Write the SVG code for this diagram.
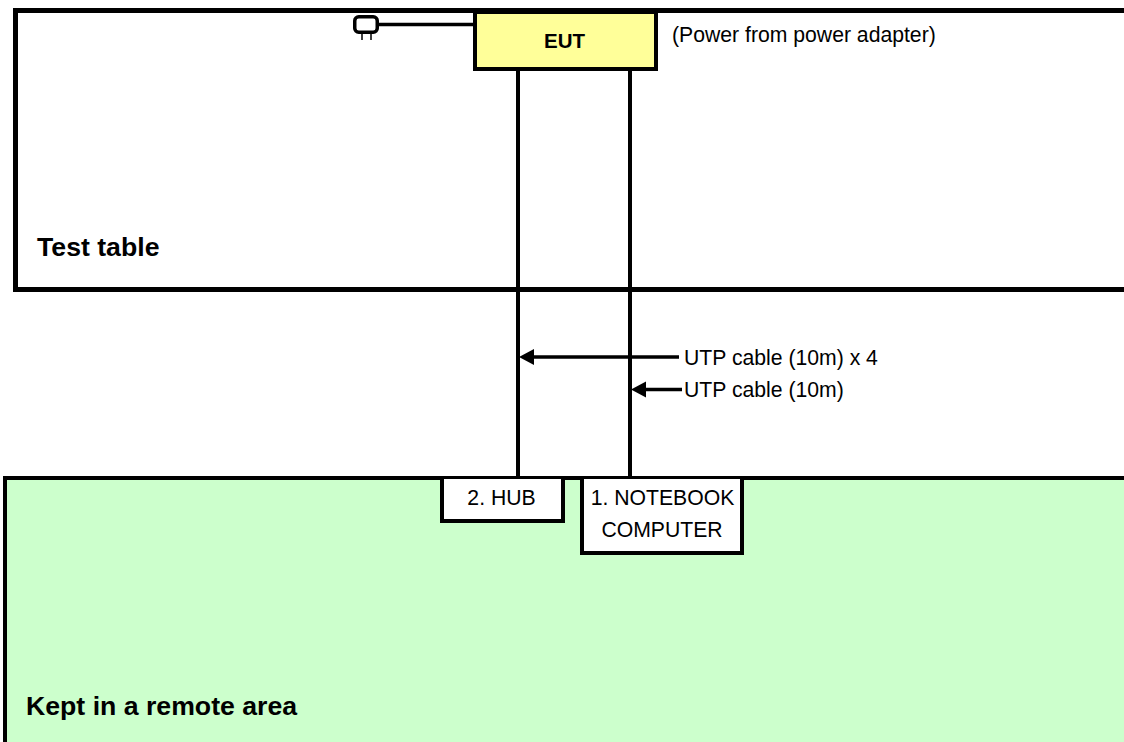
<svg xmlns="http://www.w3.org/2000/svg" width="1124" height="742" viewBox="0 0 1124 742">
<style>
text{font-family:"Liberation Sans",Arial,sans-serif;fill:#000}
.l{font-size:21.200px}
.b{font-size:26.670px;font-weight:bold}
.box{stroke:#000;stroke-width:4}
.w{stroke:#000;stroke-width:3.500;fill:none}
.c{stroke:#000;stroke-width:4;fill:none}
</style>
<defs><marker id="a" markerUnits="userSpaceOnUse" markerWidth="17" markerHeight="18" refX="0" refY="9" orient="auto"><path d="M15 9L0 1V17Z" fill="#000"/></marker></defs>
<rect width="1124" height="742" fill="#fff"/>
<g id="test-table">
<path d="M1124 10.500H15.500V289.500H1124" fill="#fff" stroke="#000" stroke-width="5"/>
<text class="b" x="37" y="256">Test table</text>
</g>
<g id="remote-area">
<path d="M1124 478H5V742H1124Z" fill="#ccffcc"/>
<path d="M1124 478H5V742" fill="none" stroke="#000" stroke-width="4"/>
<text class="b" x="26" y="715">Kept in a remote area</text>
</g>
<g id="connectors">
<path class="c" d="M518 70V477M630 70V477"/>
<path class="w" d="M379 24.500H474"/>
<path class="w" d="M679 357H534" marker-end="url(#a)"/>
<path class="w" d="M682 389.500H646" marker-end="url(#a)"/>
</g>
<g id="plug">
<rect x="354.750" y="16.750" width="22.500" height="15.500" rx="4" fill="#fff" stroke="#000" stroke-width="3.500"/>
<path d="M362 33V40M371 33V40" stroke="#000" stroke-width="1.500"/>
</g>
<g id="eut">
<rect class="box" x="475" y="12" width="181" height="57" fill="#ffff99"/>
<text x="564.500" y="48" font-size="20.500" font-weight="bold" text-anchor="middle">EUT</text>
</g>
<g id="power-note"><text class="l" x="672" y="42">(Power from power adapter)</text></g>
<g id="hub">
<path class="box" d="M442 479V521H563V479" fill="#fff"/>
<text class="l" x="501.500" y="505" text-anchor="middle">2. HUB</text>
</g>
<g id="notebook">
<path class="box" d="M582 479V553H742V479" fill="#fff"/>
<text class="l" x="662.500" y="505" text-anchor="middle">1. NOTEBOOK</text>
<text class="l" x="662" y="537" text-anchor="middle">COMPUTER</text>
</g>
<g id="labels">
<text class="l" x="684" y="365">UTP cable (10m) x 4</text>
<text class="l" x="684" y="397">UTP cable (10m)</text>
</g>
</svg>
